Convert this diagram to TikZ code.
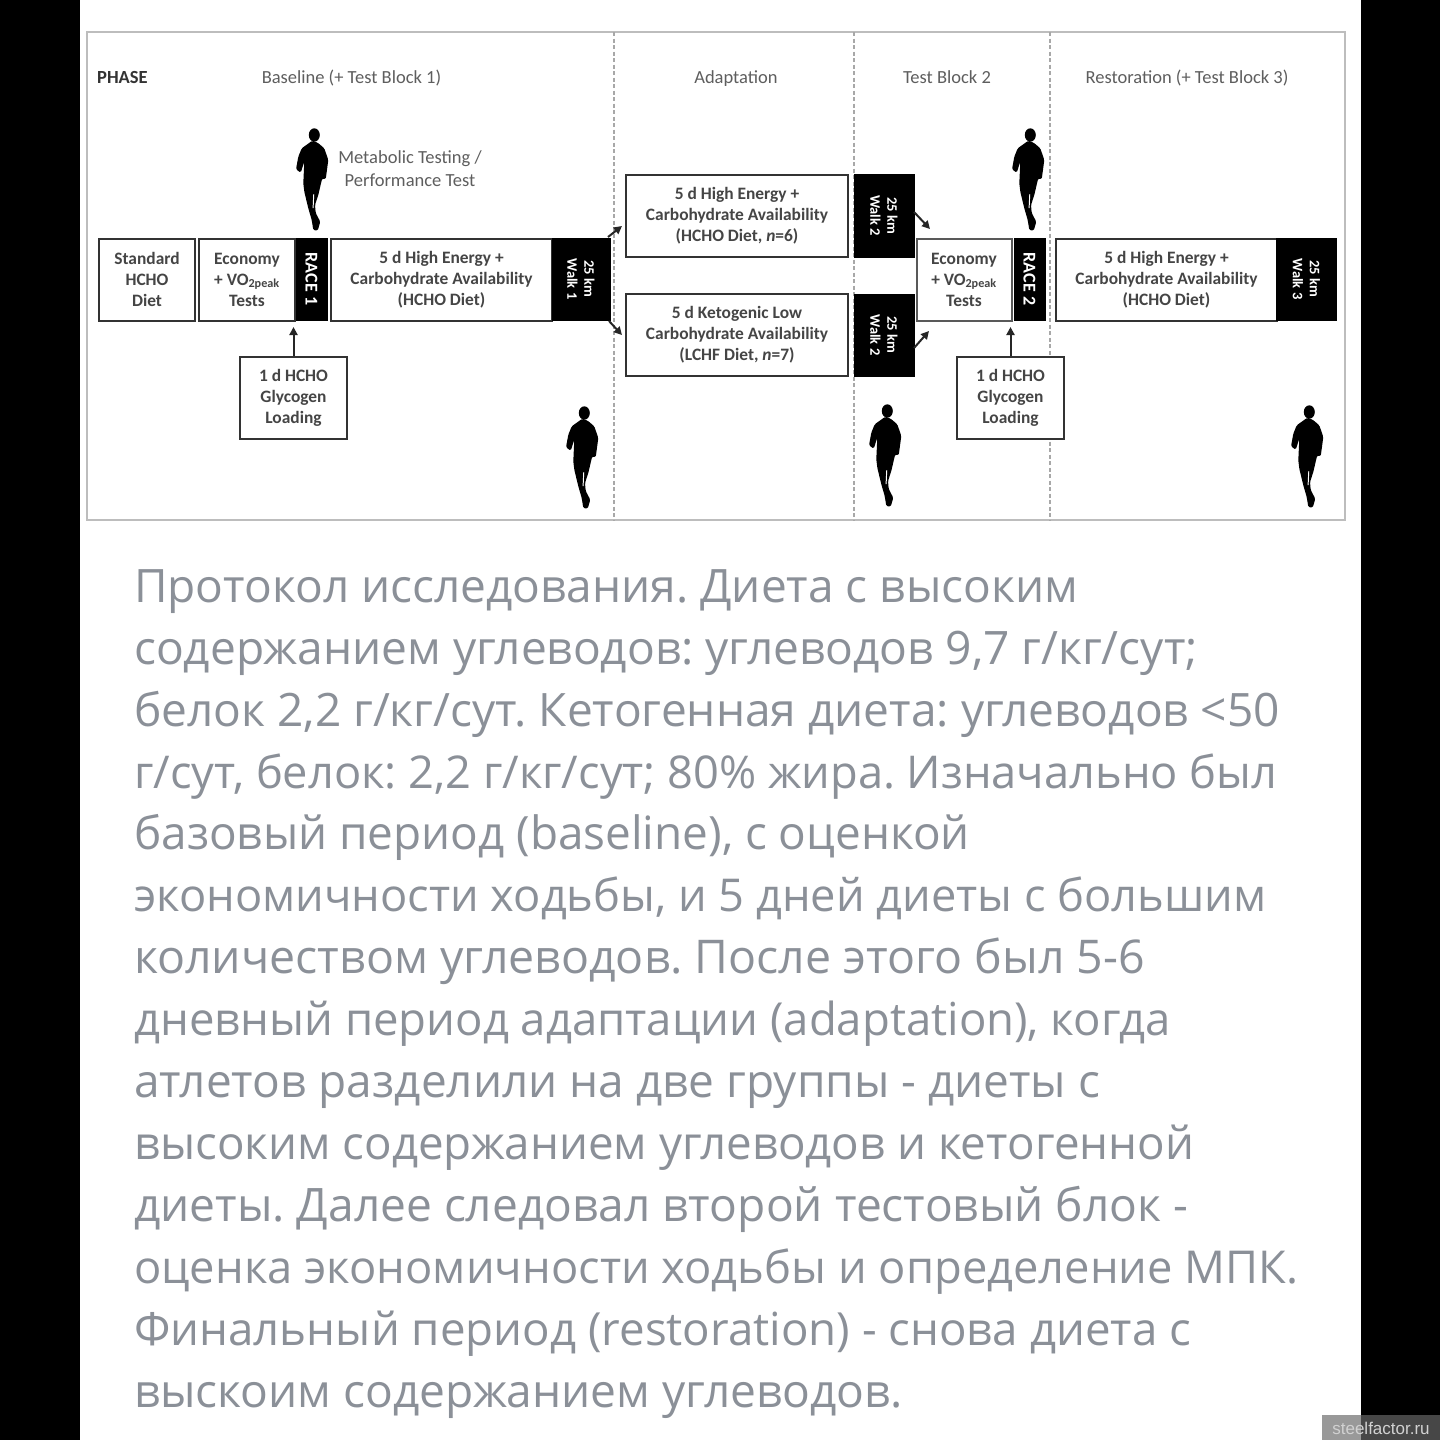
\documentclass[tikz,border=0pt]{standalone}
\usepackage{fontspec}
\setmainfont{Carlito}
\newfontfamily\bodyfont{Open Sans}
\newfontfamily\markfont{Liberation Sans}
\usetikzlibrary{arrows.meta}
\definecolor{frameg}{HTML}{BDBDBD}
\definecolor{divg}{HTML}{A8A8A8}
\definecolor{boxtxt}{HTML}{454545}
\definecolor{headtxt}{HTML}{5E5E5E}
\definecolor{bodytxt}{HTML}{8B9098}
\tikzset{
  x=1pt,y=-1pt,
  whitebox/.style={draw=black!80,line width=2pt,fill=white,text=boxtxt,inner sep=0pt,align=center,
    font=\fontsize{17.4}{21}\selectfont\bfseries,minimum height=82pt},
  blackbox/.style={draw=black,line width=1pt,fill=black,text=white,inner sep=0pt,align=center,
    font=\fontsize{14.5}{17}\selectfont\bfseries,minimum height=82pt},
  racebox/.style={blackbox,font=\fontsize{18}{20}\selectfont\bfseries},
  headlabel/.style={anchor=base,text=headtxt,inner sep=0pt,font=\fontsize{18.5}{20}\selectfont},
  bodyline/.style={anchor=base west,inner sep=0pt,text=bodytxt,font=\fontsize{#1}{50}\bodyfont\frenchspacing},
  divider/.style={draw=divg,line width=1.6pt,dash pattern=on 4pt off 2.5pt},
  flow/.style={draw=black!85,line width=2pt,-{Triangle[length=8pt,width=8pt]}},
  walker/.pic={
    \fill[black] (2.3,7) ellipse[x radius=5.5,y radius=6.7];
    \fill[black,rounded corners=1.4pt] (0.3,12.7) -- (-10.3,20.3) -- (-13.7,28.7) -- (-16,41.3) -- (-11.3,44.7)
      -- (-7.7,33.7) -- (-8.7,55.3) -- (-7.7,63.7) -- (-3.7,80.3) -- (-0.3,92) -- (1.3,102) -- (5.7,102.7)
      -- (8.3,93.7) -- (3.7,85) -- (3,77) -- (6.3,67) -- (9,55.3) -- (10.3,50.3) -- (13.7,51.3)
      -- (16.3,32) -- (12.3,20.3) -- (5.7,14.7) -- cycle;
    \fill[white] (1.3,66) -- (2.2,66) -- (1.6,80) -- (0.6,80) -- cycle;
  },
}
\begin{document}
\begin{tikzpicture}
\useasboundingbox (0,0) rectangle (1440,1440);
\fill[black] (0,0) rectangle (1440,1440);
\fill[white] (80,0) rectangle (1361,1440);
\draw[frameg,line width=2.6pt] (87,32) rectangle (1345,520);

\coordinate (d1t) at (614,32); \coordinate (d1b) at (614,520);
\coordinate (d2t) at (854,32); \coordinate (d2b) at (854,520);
\coordinate (d3t) at (1050,32); \coordinate (d3b) at (1050,520);
\draw[divider] (d1t) -- (d1b);
\draw[divider] (d2t) -- (d2b);
\draw[divider] (d3t) -- (d3b);

\node[headlabel,anchor=base west,font=\fontsize{18.5}{20}\selectfont\bfseries,text=black!80] (phase) at (97,83) {PHASE};
\node[headlabel] (hbase) at (351.5,83) {Baseline (+ Test Block 1)};
\node[headlabel] (hadapt) at (736,83) {Adaptation};
\node[headlabel] (htb) at (947,83) {Test Block 2};
\node[headlabel] (hrest) at (1187,83) {Restoration (+ Test Block 3)};
\node[headlabel,anchor=center,align=center,font=\fontsize{18.5}{23}\selectfont] (metab) at (410,169) {Metabolic Testing /\\Performance Test};

\node[whitebox,minimum width=96pt] (std) at (147,279.5) {Standard\\HCHO\\Diet};
\node[whitebox,minimum width=96pt] (eco1) at (247,279.5) {Economy\\+ VO\textsubscript{2peak}\\Tests};
\node[racebox,rotate=-90,minimum width=82pt,minimum height=31pt] (race1) at (311.5,279) {RACE 1};
\node[whitebox,minimum width=221pt] (hcho1) at (441.5,279.5) {5 d High Energy +\\Carbohydrate Availability\\(HCHO Diet)};
\node[blackbox,rotate=-90,minimum width=82pt,minimum height=58pt] (walk1) at (581,279) {25 km\\Walk 1};
\node[whitebox,minimum width=107pt] (load1) at (293.5,398) {1 d HCHO\\Glycogen\\Loading};

\node[whitebox,minimum width=222pt] (hchoA) at (737,216) {5 d High Energy +\\Carbohydrate Availability\\(HCHO Diet, \textit{n}=6)};
\node[whitebox,minimum width=222pt] (lchfA) at (737,335) {5 d Ketogenic Low\\Carbohydrate Availability\\(LCHF Diet, \textit{n}=7)};
\node[blackbox,rotate=-90,minimum width=83pt,minimum height=60pt] (walk2a) at (884,215.5) {25 km\\Walk 2};
\node[blackbox,rotate=-90,minimum width=82pt,minimum height=60pt] (walk2b) at (884,335) {25 km\\Walk 2};

\node[whitebox,minimum width=95pt,draw=black!65] (eco2) at (964,279.5) {Economy\\+ VO\textsubscript{2peak}\\Tests};
\node[racebox,rotate=-90,minimum width=82pt,minimum height=31pt] (race2) at (1029.5,279) {RACE 2};
\node[whitebox,minimum width=107pt] (load2) at (1010.5,398) {1 d HCHO\\Glycogen\\Loading};
\node[whitebox,minimum width=221pt] (hcho3) at (1166.5,279.5) {5 d High Energy +\\Carbohydrate Availability\\(HCHO Diet)};
\node[blackbox,rotate=-90,minimum width=82pt,minimum height=60pt] (walk3) at (1306.5,279) {25 km\\Walk 3};

\coordinate (t1) at (293.5,327);
\coordinate (t2) at (1010.5,327);
\draw[flow] (load1.north) -- (t1);
\draw[flow] (load2.north) -- (t2);

\coordinate (s1) at (608,237);
\coordinate (s2) at (609,321);
\coordinate (e1) at (622,226);
\coordinate (e2) at (622,335);
\draw[flow] (s1) -- (e1);
\draw[flow] (s2) -- (e2);

\coordinate (a1s) at (914,212); \coordinate (a1e) at (930,229);
\coordinate (a2s) at (914,348); \coordinate (a2e) at (929,331);
\draw[flow] (a1s) -- (a1e);
\draw[flow] (a2s) -- (a2e);

\pic (man1) at (312,128) {walker};
\pic (man2) at (582,406) {walker};
\pic (man3) at (885,404) {walker};
\pic (man4) at (1028,128) {walker};
\pic (man5) at (1307,405) {walker};

\node[bodyline=46.04] (l01) at (134,602) {Протокол исследования. Диета с высоким};
\node[bodyline=46.08] (l02) at (134,664) {содержанием углеводов: углеводов 9,7 г/кг/сут;};
\node[bodyline=46.04] (l03) at (134,726) {белок 2,2 г/кг/сут. Кетогенная диета: углеводов <50};
\node[bodyline=45.2] (l04) at (134,788) {г/сут, белок: 2,2 г/кг/сут; 80\% жира. Изначально был};
\node[bodyline=45.87] (l05) at (134,849) {базовый период (baseline), с оценкой};
\node[bodyline=45.24] (l06) at (134,911) {экономичности ходьбы, и 5 дней диеты с большим};
\node[bodyline=46.47] (l07) at (134,973) {количеством углеводов. После этого был 5-6};
\node[bodyline=45.5] (l08) at (134,1035) {дневный период адаптации (adaptation), когда};
\node[bodyline=45.98] (l09) at (134,1097) {атлетов разделили на две группы - диеты с};
\node[bodyline=45.69] (l10) at (134,1159) {высоким содержанием углеводов и кетогенной};
\node[bodyline=46.1] (l11) at (134,1221) {диеты. Далее следовал второй тестовый блок -};
\node[bodyline=45.3] (l12) at (134,1283) {оценка экономичности ходьбы и определение МПК.};
\node[bodyline=45.64] (l13) at (134,1345) {Финальный период (restoration) - снова диета с};
\node[bodyline=46.08] (l14) at (134,1407) {выскоим содержанием углеводов.};

\fill[black!40] (1322,1415) rectangle (1361,1440);
\fill[black!72] (1361,1415) rectangle (1440,1440);
\node[anchor=center,inner sep=0pt,text=black!18,font=\fontsize{17}{20}\markfont] (wm) at (1381,1428) {steelfactor.ru};
\end{tikzpicture}
\end{document}
